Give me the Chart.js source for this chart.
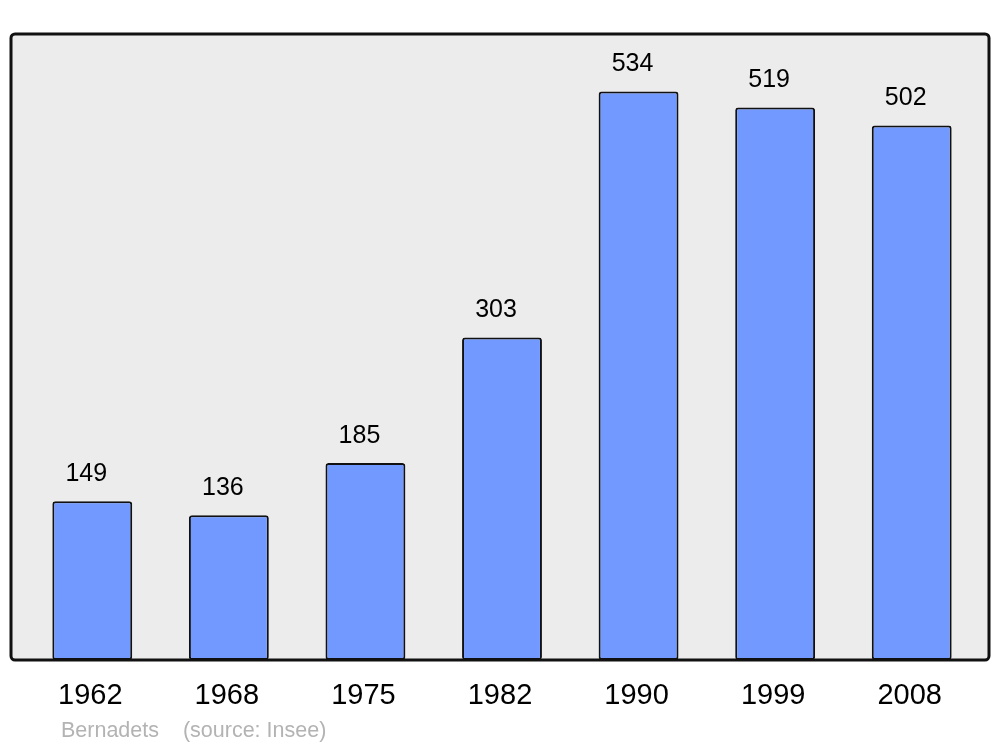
<!DOCTYPE html>
<html>
<head>
<meta charset="utf-8">
<script src="https://cdn.jsdelivr.net/npm/chart.js@4"></script>
<style>
  body { margin: 0; background: #ffffff; }
</style>
</head>
<body>
<canvas id="pop_bar" width="1000" height="747"></canvas>
<script>
// Datos de población
var annees = ["1962", "1968", "1975", "1982", "1990", "1999", "2008"];
var population = [149, 136, 185, 303, 534, 519, 502];
var commune = "Bernadets";
var source = "(source: Insee)";

// Marco gris con borde negro y textos
var cadrePlugin = {
  id: "cadre",
  beforeDatasetsDraw: function (chart) {
    var ctx = chart.ctx, a = chart.chartArea;
    ctx.save();
    ctx.beginPath();
    ctx.roundRect(a.left - 13, a.top, a.right - a.left + 22, a.bottom - a.top, 4);
    ctx.fillStyle = "#ececec";
    ctx.fill();
    ctx.restore();
  },
  afterDatasetsDraw: function (chart) {
    var ctx = chart.ctx, a = chart.chartArea;
    var x = chart.scales.x, y = chart.scales.y;
    ctx.save();
    ctx.beginPath();
    ctx.roundRect(a.left - 13, a.top, a.right - a.left + 22, a.bottom - a.top, 4);
    ctx.lineWidth = 3;
    ctx.strokeStyle = "#111111";
    ctx.stroke();

    ctx.fillStyle = "#000000";
    ctx.textAlign = "center";
    ctx.textBaseline = "middle";
    ctx.font = "25px 'Liberation Sans', Arial, sans-serif";
    population.forEach(function (v, i) {
      ctx.fillText(String(v), x.getPixelForValue(i) - 6, y.getPixelForValue(v) - 27);
    });
    ctx.font = "29px 'Liberation Sans', Arial, sans-serif";
    annees.forEach(function (an, i) {
      ctx.fillText(an, x.getPixelForValue(i) - 2, a.bottom + 36);
    });
    ctx.textAlign = "left";
    ctx.fillStyle = "#b3b3b3";
    ctx.font = "21.5px 'Liberation Sans', Arial, sans-serif";
    ctx.fillText(commune + "    " + source, a.left + 37, a.bottom + 71);
    ctx.restore();
  }
};

var ctx = document.getElementById("pop_bar").getContext("2d");
var graf = new Chart(ctx, {
  type: "bar",
  data: {
    labels: annees,
    datasets: [
      {
        label: "Population",
        data: population,
        backgroundColor: "#7299ff",
        borderColor: "#111111",
        borderWidth: 2,
        borderRadius: 3,
        borderSkipped: false,
        barPercentage: 0.585,
        categoryPercentage: 1,
      },
    ],
  },
  options: {
    responsive: false,
    animation: false,
    layout: {
      padding: { left: 24, right: 20, top: 34, bottom: 87 },
    },
    scales: {
      x: { display: false },
      y: { display: false, min: 0, max: 588 },
    },
    plugins: {
      legend: { display: false },
      tooltip: { enabled: false },
    },
  },
  plugins: [cadrePlugin],
});
</script>
</body>
</html>
